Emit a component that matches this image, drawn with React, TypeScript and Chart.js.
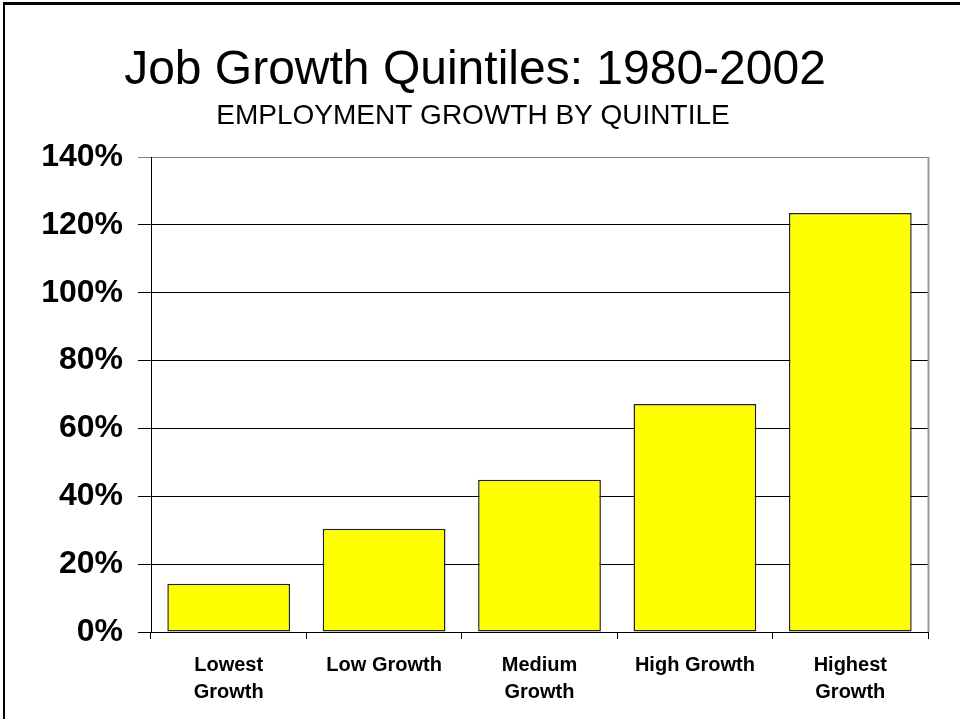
import React, { useEffect, useRef } from "react";
import { Chart, registerables } from "chart.js";

Chart.register(...registerables);

const categories: (string | string[])[] = [
  ["Lowest", "Growth"],
  "Low Growth",
  ["Medium", "Growth"],
  "High Growth",
  ["Highest", "Growth"],
];
const growthPct = [14.2, 30.4, 44.9, 67.2, 123.5];
const yMin = 0;
const yMax = 140;
const yStep = 20;
const titleText = "Job Growth Quintiles: 1980-2002";
const subtitleText = "EMPLOYMENT GROWTH BY QUINTILE";

const FONT = "'Liberation Sans', Arial, sans-serif";

const decorPlugin = {
  id: "decor",
  afterDraw(chart: any) {
    const { ctx, chartArea } = chart;
    ctx.save();
    // frame lines (top and left)
    ctx.fillStyle = "#000";
    ctx.fillRect(3, 2, 957, 3);
    ctx.fillRect(3, 2, 2, 717);
    // plot area right edge
    ctx.strokeStyle = "#999";
    ctx.lineWidth = 2;
    ctx.beginPath();
    ctx.moveTo(chartArea.right + 0.5, chartArea.top);
    ctx.lineTo(chartArea.right + 0.5, chartArea.bottom);
    ctx.stroke();
    // titles
    ctx.fillStyle = "#000";
    ctx.textAlign = "center";
    ctx.textBaseline = "alphabetic";
    ctx.font = `48px ${FONT}`;
    ctx.fillText(titleText, 475, 84);
    ctx.font = `28px ${FONT}`;
    ctx.fillText(subtitleText, 473, 124);
    ctx.restore();
  },
};

export default function App() {
  const canvasRef = useRef<HTMLCanvasElement | null>(null);

  useEffect(() => {
    if (!canvasRef.current) return;
    const chart = new Chart(canvasRef.current, {
      type: "bar",
      data: {
        labels: categories,
        datasets: [
          {
            data: growthPct,
            backgroundColor: "#FFFF00",
            borderColor: "#222",
            borderWidth: 1.5,
            borderSkipped: false,
            categoryPercentage: 1,
            barPercentage: 0.79,
          },
        ],
      },
      options: {
        responsive: false,
        animation: false,
        layout: { padding: { top: 157, right: 32, left: 0, bottom: 0 } },
        plugins: {
          legend: { display: false },
          title: { display: false },
          tooltip: { enabled: false },
        },
        scales: {
          x: {
            offset: true,
            grid: {
              offset: true,
              drawOnChartArea: false,
              color: "#000",
              tickLength: 7,
            },
            border: { color: "#000", width: 1 },
            ticks: {
              color: "#000",
              font: { family: FONT, size: 20, weight: "bold", lineHeight: 1.35 },
              padding: 13,
              maxRotation: 0,
              autoSkip: false,
            },
            afterFit: (scale: any) => {
              scale.height = 87;
            },
          },
          y: {
            min: yMin,
            max: yMax,
            ticks: {
              stepSize: yStep,
              color: "#000",
              font: { family: FONT, size: 32, weight: "bold" },
              padding: 15,
              callback: (v: any) => `${v}%`,
            },
            grid: {
              color: (c: any) => (c.tick && c.tick.value === yMax ? "#808080" : "#000"),
              lineWidth: 1,
              tickLength: 13,
            },
            border: { color: "#000", width: 1 },
            afterFit: (scale: any) => {
              scale.width = 151;
            },
          },
        },
      },
      plugins: [decorPlugin],
    } as any);
    return () => chart.destroy();
  }, []);

  return (
    <div style={{ position: "absolute", left: 0, top: 0, width: 960, height: 719, background: "#fff" }}>
      <canvas ref={canvasRef} width={960} height={719} />
    </div>
  );
}
